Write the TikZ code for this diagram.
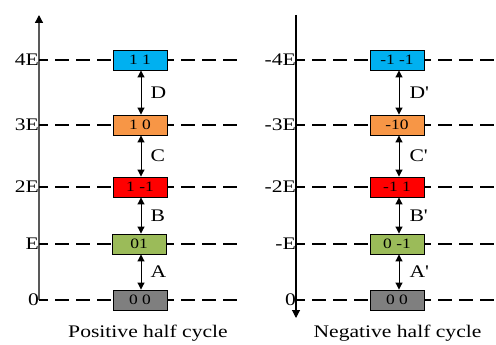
\documentclass[tikz,border=0pt]{standalone}
\usepackage{fontspec}
\setmainfont{Liberation Serif}
\usetikzlibrary{arrows.meta}
\newcommand\stretchtxt[1]{\scalebox{1.22}[1]{#1}}
\definecolor{cCyan}{HTML}{00B0F0}
\definecolor{cOrange}{HTML}{F79646}
\definecolor{cRed}{HTML}{FF0000}
\definecolor{cGreen}{HTML}{9BBB59}
\definecolor{cGray}{HTML}{7F7F7F}
\tikzset{
  lvl/.style={line width=1.1pt, dash pattern=on 14pt off 7pt, dash phase=5pt},
  statebox/.style={draw=black, line width=0.9pt, minimum width=54pt, minimum height=20pt, inner sep=0pt, font=\fontsize{14.3}{15}\selectfont},
  trans/.style={{Triangle[length=7pt,width=7pt]}-{Triangle[length=7pt,width=7pt]}, line width=1pt},
  lab/.style={font=\fontsize{17.7}{18}\selectfont, inner sep=0pt},
  axislab/.style={lab, anchor=east},
  translab/.style={lab, anchor=west},
  caption/.style={font=\fontsize{17.7}{18}\selectfont, inner sep=0pt}
}
\begin{document}
\begin{tikzpicture}[x=1pt,y=-1pt]
\useasboundingbox (0,0) rectangle (496,345);
% level coordinates
\foreach \n/\y in {0/300,1/244,2/187,3/125,4/60}{
  \coordinate (Ls\n) at (39,\y);
  \coordinate (Le\n) at (243,\y);
  \coordinate (Rs\n) at (296,\y);
  \coordinate (Re\n) at (500,\y);
}
% axes
\coordinate (Lbot) at (39,300);
\coordinate (Ltop) at (39,15);
\coordinate (Rtop) at (296,15);
\coordinate (Rbot) at (296,318);
\draw[line width=1.3pt, draw=black!65, -{Triangle[length=8pt,width=8pt,color=black,fill=black]}] (Lbot) -- (Ltop);
\draw[line width=1.1pt, -{Triangle[length=8pt,width=8pt]}] (Rtop) -- (Rbot);
% dashed levels
\foreach \n in {0,...,4}{
  \draw[lvl] (Ls\n) -- (Le\n);
  \draw[lvl] (Rs\n) -- (Re\n);
}
% axis labels
\node[axislab] (la4) at (39,60) {\stretchtxt{4E}};
\node[axislab] (la3) at (39,125) {\stretchtxt{3E}};
\node[axislab] (la2) at (39,187) {\stretchtxt{2E}};
\node[axislab] (la1) at (39,244) {\stretchtxt{E}};
\node[axislab] (la0) at (39,300) {\stretchtxt{0}};
\node[axislab] (ra4) at (296,60) {\stretchtxt{-4E}};
\node[axislab] (ra3) at (296,125) {\stretchtxt{-3E}};
\node[axislab] (ra2) at (296,187) {\stretchtxt{-2E}};
\node[axislab] (ra1) at (296,244) {\stretchtxt{-E}};
\node[axislab] (ra0) at (296,300) {\stretchtxt{0}};
% state boxes positive
\node[statebox, fill=cCyan] (p4) at (140,60) {\stretchtxt{1 1}};
\node[statebox, fill=cOrange] (p3) at (140,125) {\stretchtxt{1 0}};
\node[statebox, fill=cRed] (p2) at (140,187) {\stretchtxt{1 -1}};
\node[statebox, fill=cGreen] (p1) at (139,244) {\stretchtxt{01}};
\node[statebox, fill=cGray] (p0) at (140,300) {\stretchtxt{0 0}};
% state boxes negative
\node[statebox, fill=cCyan] (n4) at (397,60) {\stretchtxt{-1 -1}};
\node[statebox, fill=cOrange] (n3) at (397,125) {\stretchtxt{-10}};
\node[statebox, fill=cRed] (n2) at (397,187) {\stretchtxt{-1 1}};
\node[statebox, fill=cGreen] (n1) at (397,244) {\stretchtxt{0 -1}};
\node[statebox, fill=cGray] (n0) at (397,300) {\stretchtxt{0 0}};
% transitions positive
\draw[trans] (p4.south -| 141,0) -- (p3.north -| 141,0) node[translab, midway, xshift=9pt] (tD) {\stretchtxt{D}};
\draw[trans] (p3.south -| 141,0) -- (p2.north -| 141,0) node[translab, midway, xshift=9pt] (tC) {\stretchtxt{C}};
\draw[trans] (p2.south -| 141,0) -- (p1.north -| 141,0) node[translab, midway, xshift=9pt] (tB) {\stretchtxt{B}};
\draw[trans] (p1.south -| 141,0) -- (p0.north -| 141,0) node[translab, midway, xshift=9pt] (tA) {\stretchtxt{A}};
% transitions negative
\draw[trans] (n4.south -| 399,0) -- (n3.north -| 399,0) node[translab, midway, xshift=10pt] (tD2) {\stretchtxt{D\textquotesingle}};
\draw[trans] (n3.south -| 399,0) -- (n2.north -| 399,0) node[translab, midway, xshift=10pt] (tC2) {\stretchtxt{C\textquotesingle}};
\draw[trans] (n2.south -| 399,0) -- (n1.north -| 399,0) node[translab, midway, xshift=10pt] (tB2) {\stretchtxt{B\textquotesingle}};
\draw[trans] (n1.south -| 399,0) -- (n0.north -| 399,0) node[translab, midway, xshift=10pt] (tA2) {\stretchtxt{A\textquotesingle}};
% captions
\node[caption] (capP) at (148,333) {\stretchtxt{Positive half cycle}};
\node[caption] (capN) at (397.5,333) {\stretchtxt{Negative half cycle}};
\end{tikzpicture}
\end{document}
